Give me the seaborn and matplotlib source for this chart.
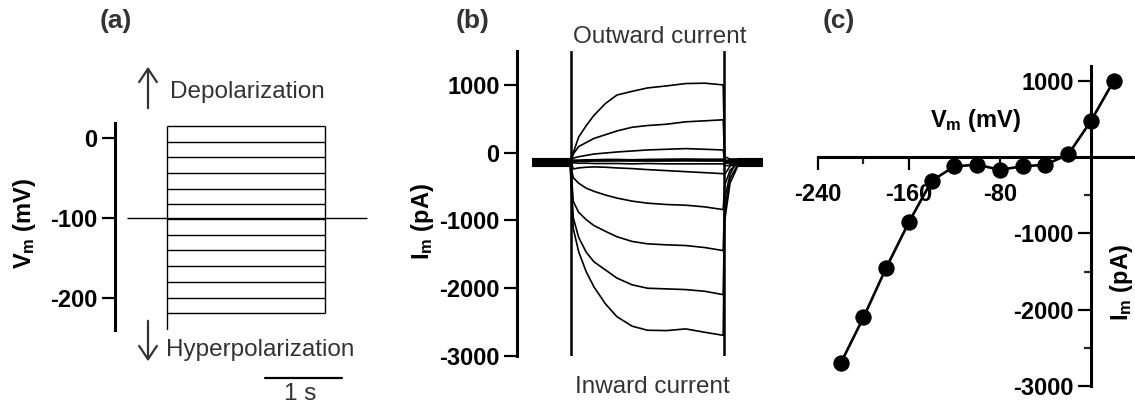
import numpy as np
import pandas as pd
import matplotlib
matplotlib.use("Agg")
import matplotlib.pyplot as plt
import seaborn as sns

# ---------------- data ----------------
# Panel (a): voltage protocol (levels as drawn)
step_levels_mV = [15, -5, -24, -44, -63, -82, -101, -121, -140, -160, -180, -200, -219]
holding_mV = -100
hold_start_s = -0.52
step_on_s = 0.0
step_off_s = 2.06
hold_end_s = 2.60
scale_bar_s = 1.0

# Panel (b): current traces (pA) sampled at these times (s)
trace_t_s = [-0.5, -0.01, 0.03, 0.1, 0.2, 0.3, 0.45, 0.6, 0.8, 1.0, 1.25, 1.5,
             1.75, 1.99, 2.01, 2.08, 2.18, 2.5]
trace_p20 = [-95, -95, 0, 230, 400, 550, 725, 850, 905, 955, 985, 1020, 1025, 1000, -60, -95, -95, -95]
trace_0 = [-170, -170, -20, 90, 150, 210, 265, 320, 375, 400, 420, 455, 470, 485, -90, -170, -170, -170]
trace_m20 = [-120, -120, -80, -60, -40, -20, -5, 10, 25, 40, 50, 60, 50, 40, -120, -120, -120, -120]
trace_m40 = [-150, -150, -110, -110, -105, -105, -100, -100, -105, -100, -100, -95, -100, -100, -150, -150, -150, -150]
trace_m60 = [-100, -100, -125, -125, -120, -120, -120, -115, -120, -120, -120, -115, -120, -120, -130, -100, -100, -100]
trace_m80 = [-190, -190, -150, -155, -155, -160, -160, -160, -165, -160, -165, -165, -165, -165, -190, -190, -190, -190]
trace_m100 = [-130, -130, -125, -120, -115, -115, -110, -110, -105, -105, -100, -100, -100, -100, -140, -130, -130, -130]
trace_m120 = [-140, -140, -130, -125, -125, -120, -120, -120, -120, -120, -120, -120, -120, -120, -160, -140, -140, -140]
trace_m140 = [-110, -110, -240, -225, -215, -210, -215, -225, -235, -250, -265, -280, -295, -310, -320, -200, -110, -110]
trace_m160 = [-160, -160, -370, -450, -525, -570, -625, -670, -715, -745, -765, -775, -800, -840, -480, -260, -160, -160]
trace_m180 = [-90, -90, -720, -880, -990, -1075, -1160, -1240, -1310, -1345, -1360, -1370, -1400, -1445, -680, -320, -90, -90]
trace_m200 = [-180, -180, -960, -1250, -1470, -1610, -1730, -1850, -1950, -2000, -2010, -2020, -2045, -2095, -850, -380, -180, -180]
trace_m220 = [-200, -200, -1120, -1460, -1760, -1980, -2230, -2420, -2560, -2620, -2625, -2600, -2650, -2695, -1000, -450, -200, -200]
trace_step_on_s = 0.0
trace_step_off_s = 2.0

# Panel (c): I-V relation
iv_V_mV = [-220, -200, -180, -160, -140, -120, -100, -80, -60, -40, -20, 0, 20]
iv_I_pA = [-2700, -2100, -1450, -850, -310, -120, -100, -165, -120, -100, 35, 475, 1000]

# ---------------- style ----------------
sns.set_theme(style="ticks")
plt.rcParams["font.family"] = ["Liberation Sans", "DejaVu Sans"]
plt.rcParams["mathtext.fontset"] = "custom"
plt.rcParams["mathtext.rm"] = "Liberation Sans"
plt.rcParams["mathtext.bf"] = "Liberation Sans:bold"
plt.rcParams["mathtext.default"] = "regular"

W, H = 1135, 408
fig = plt.figure(figsize=(W / 100, H / 100), dpi=100)


def fx(x):
    return x / W


def fy(y):
    return 1 - y / H


def ax_rect(l, t, r, b):
    return [fx(l), fy(b), fx(r) - fx(l), fy(t) - fy(b)]


TXT = "#333333"
TICK_FS = 17
LAB_FS = 17.5


def style_axis(ax):
    for s in ["top", "right", "bottom"]:
        ax.spines[s].set_visible(False)
    ax.spines["left"].set_linewidth(2.2)
    ax.spines["left"].set_color("black")
    ax.tick_params(axis="y", length=9.5, width=1.6, pad=3, labelsize=TICK_FS, colors="black")
    ax.set_xticks([])
    for lab in ax.get_yticklabels():
        lab.set_fontweight("bold")


# ---------------- panel (a) ----------------
ax_a = fig.add_axes(ax_rect(115, 123, 370, 330))
ax_a.set_xlim(-0.68, 2.64)
ax_a.set_ylim(-240, 19)
ax_a.hlines(step_levels_mV, step_on_s, step_off_s, color="black", lw=1.0)
ax_a.hlines([holding_mV], hold_start_s, hold_end_s, color="black", lw=1.0)
ax_a.vlines([step_on_s], -240, max(step_levels_mV), color="black", lw=1.0)
ax_a.vlines([step_off_s], min(step_levels_mV), max(step_levels_mV), color="black", lw=1.0)
ax_a.set_yticks([0, -100, -200])
ax_a.set_yticklabels(["0", "-100", "-200"])
style_axis(ax_a)
ax_a.set_xlim(-0.68, 2.64)
# scale bar
ax_a.plot([1.27, 1.27 + scale_bar_s], [-300, -300], color="black", lw=1.6, clip_on=False)
fig.text(fx(300), fy(400), "1 s", ha="center", va="baseline", fontsize=LAB_FS, color=TXT)

fig.text(fx(24), fy(223), r"V$_\mathregular{m}$ (mV)", rotation=90, ha="center", va="center",
         fontsize=17, fontweight="bold", color="black")

# arrows
fig.patches.append(matplotlib.patches.FancyArrowPatch((fx(148), fy(111)), (fx(148), fy(64)),
                   transform=fig.transFigure, arrowstyle="->,head_length=6,head_width=4",
                   color=TXT, lw=1.6, mutation_scale=1.6))
fig.patches.append(matplotlib.patches.FancyArrowPatch((fx(148), fy(318)), (fx(148), fy(364)),
                   transform=fig.transFigure, arrowstyle="->,head_length=6,head_width=4",
                   color=TXT, lw=1.6, mutation_scale=1.6))
fig.text(fx(170), fy(98), "Depolarization", ha="left", va="baseline", fontsize=LAB_FS, color=TXT)
fig.text(fx(166), fy(356), "Hyperpolarization", ha="left", va="baseline", fontsize=LAB_FS, color=TXT)

# ---------------- panel (b) ----------------
ax_b = fig.add_axes(ax_rect(517, 51, 766, 356))
traces = {20: trace_p20, 0: trace_0, -20: trace_m20, -40: trace_m40, -60: trace_m60,
          -80: trace_m80, -100: trace_m100, -120: trace_m120, -140: trace_m140,
          -160: trace_m160, -180: trace_m180, -200: trace_m200, -220: trace_m220}
rows = []
for v, vals in traces.items():
    for t, i in zip(trace_t_s, vals):
        rows.append((v, t, i))
df_b = pd.DataFrame(rows, columns=["V", "t", "I"])
sns.lineplot(data=df_b, x="t", y="I", units="V", estimator=None, sort=False,
             color="black", lw=1.2, legend=False, ax=ax_b)
ax_b.set_xlim(-0.706, 2.55)
ax_b.set_ylim(-3000, 1500)
ax_b.axvline(trace_step_on_s, color="black", lw=1.8)
ax_b.axvline(trace_step_off_s, color="black", lw=1.8)
ax_b.set_yticks([1000, 0, -1000, -2000, -3000])
ax_b.set_yticklabels(["1000", "0", "-1000", "-2000", "-3000"])
ax_b.set_xlabel("")
ax_b.set_ylabel("")
style_axis(ax_b)
fig.text(fx(423), fy(222), r"I$_\mathregular{m}$ (pA)", rotation=90, ha="center", va="center",
         fontsize=17, fontweight="bold", color="black")
fig.text(fx(660), fy(43), "Outward current", ha="center", va="baseline", fontsize=LAB_FS, color=TXT)
fig.text(fx(652), fy(393), "Inward current", ha="center", va="baseline", fontsize=LAB_FS, color=TXT)

# ---------------- panel (c) ----------------
ax_c = fig.add_axes(ax_rect(818, 65.6, 1135, 386))
sns.lineplot(x=iv_V_mV, y=iv_I_pA, marker="o", markersize=11, color="black", lw=1.9,
             markeredgecolor="black", ax=ax_c, clip_on=False)
ax_c.set_xlim(-240, 38.7)
ax_c.set_ylim(-3000, 1200)
ax_c.spines["left"].set_position(("data", 0))
ax_c.spines["bottom"].set_position(("data", 0))
ax_c.spines["top"].set_visible(False)
ax_c.spines["right"].set_visible(False)
for s in ["left", "bottom"]:
    ax_c.spines[s].set_linewidth(2.2)
    ax_c.spines[s].set_color("black")
ax_c.set_xticks([-240, -160, -80])
ax_c.set_xticklabels(["-240", "-160", "-80"])
ax_c.set_xticks([-200, -120, -40], minor=True)
ax_c.set_yticks([1000, -1000, -2000, -3000])
ax_c.set_yticklabels(["1000", "-1000", "-2000", "-3000"])
ax_c.set_yticks([500, -500, -1500, -2500], minor=True)
ax_c.tick_params(axis="both", which="major", length=9.5, width=1.6, labelsize=TICK_FS, colors="black")
ax_c.tick_params(axis="both", which="minor", length=5, width=1.6)
ax_c.tick_params(axis="x", which="major", pad=9)
ax_c.tick_params(axis="y", which="major", pad=3)
for lab in ax_c.get_xticklabels() + ax_c.get_yticklabels():
    lab.set_fontweight("bold")
ax_c.set_xlabel("")
ax_c.set_ylabel("")
fig.text(fx(976), fy(127), r"V$_\mathregular{m}$ (mV)", ha="center", va="baseline",
         fontsize=17, fontweight="bold", color="black")
fig.text(fx(1108), fy(283), r"I$_\mathregular{m}$ (pA)", rotation=90, ha="left", va="center",
         fontsize=17, fontweight="bold", color="black")

# panel labels
for x, s in [(100, "(a)"), (456, "(b)"), (823, "(c)")]:
    fig.text(fx(x), fy(28), s, ha="left", va="baseline", fontsize=19, fontweight="bold", color=TXT)

fig.savefig("out.png", dpi=100)
